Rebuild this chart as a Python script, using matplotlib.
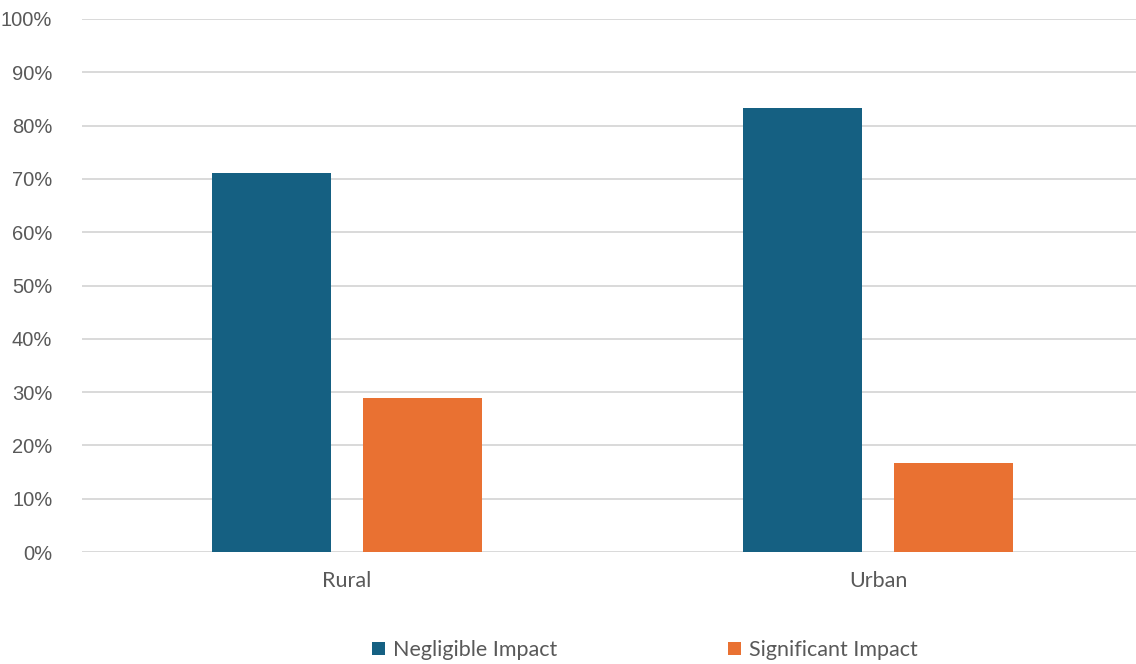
import matplotlib
matplotlib.use("Agg")
import matplotlib.pyplot as plt
import numpy as np
from matplotlib.patches import Patch
from matplotlib.ticker import FuncFormatter

categories = ["Rural", "Urban"]
series_names = ["Negligible Impact", "Significant Impact"]
negligible = [71.1, 83.3]
significant = [28.9, 16.7]
yticks = [0, 10, 20, 30, 40, 50, 60, 70, 80, 90, 100]

colors = ["#156082", "#E97132"]
text_color = "#595959"
grid_color = "#D9D9D9"

fig = plt.figure(figsize=(11.36, 6.64), dpi=100)
ax = fig.add_axes([81.5 / 1136, 112 / 664, 1062 / 1136, (552 - 19) / 664])

x = np.arange(len(categories))
width = 0.224
offset = 0.143
ax.bar(x - offset, negligible, width, color=colors[0], zorder=3)
ax.bar(x + offset, significant, width, color=colors[1], zorder=3)

ax.set_xlim(-0.5, len(categories) - 0.5)
ax.set_ylim(0, 100)
ax.set_yticks(yticks)
ax.yaxis.set_major_formatter(FuncFormatter(lambda v, p: f"{v:.0f}%"))
ax.grid(axis="y", color=grid_color, linewidth=1.4, zorder=0)
ax.set_xticks(x)
ax.set_xticklabels(categories)

for s in ax.spines.values():
    s.set_visible(False)
ax.tick_params(axis="both", length=0, colors=text_color)
ax.tick_params(axis="y", pad=21)
ax.tick_params(axis="x", pad=14)
for lbl in ax.get_yticklabels():
    lbl.set_fontfamily("Liberation Sans")
    lbl.set_fontsize(14.5)
    lbl.set_color(text_color)
for lbl in ax.get_xticklabels():
    lbl.set_fontfamily("Lato")
    lbl.set_fontsize(15.5)
    lbl.set_color(text_color)

handles = [Patch(facecolor=c, edgecolor="none") for c in colors]
leg = fig.legend(handles, series_names, loc="center", ncol=2,
                 bbox_to_anchor=(645 / 1136, 1 - 650 / 664),
                 frameon=False, prop={"family": "Lato", "size": 15.5},
                 handlelength=0.6, handleheight=0.6, handletextpad=0.4,
                 columnspacing=7.9, labelcolor=text_color)

fig.savefig("out.png", dpi=100)
